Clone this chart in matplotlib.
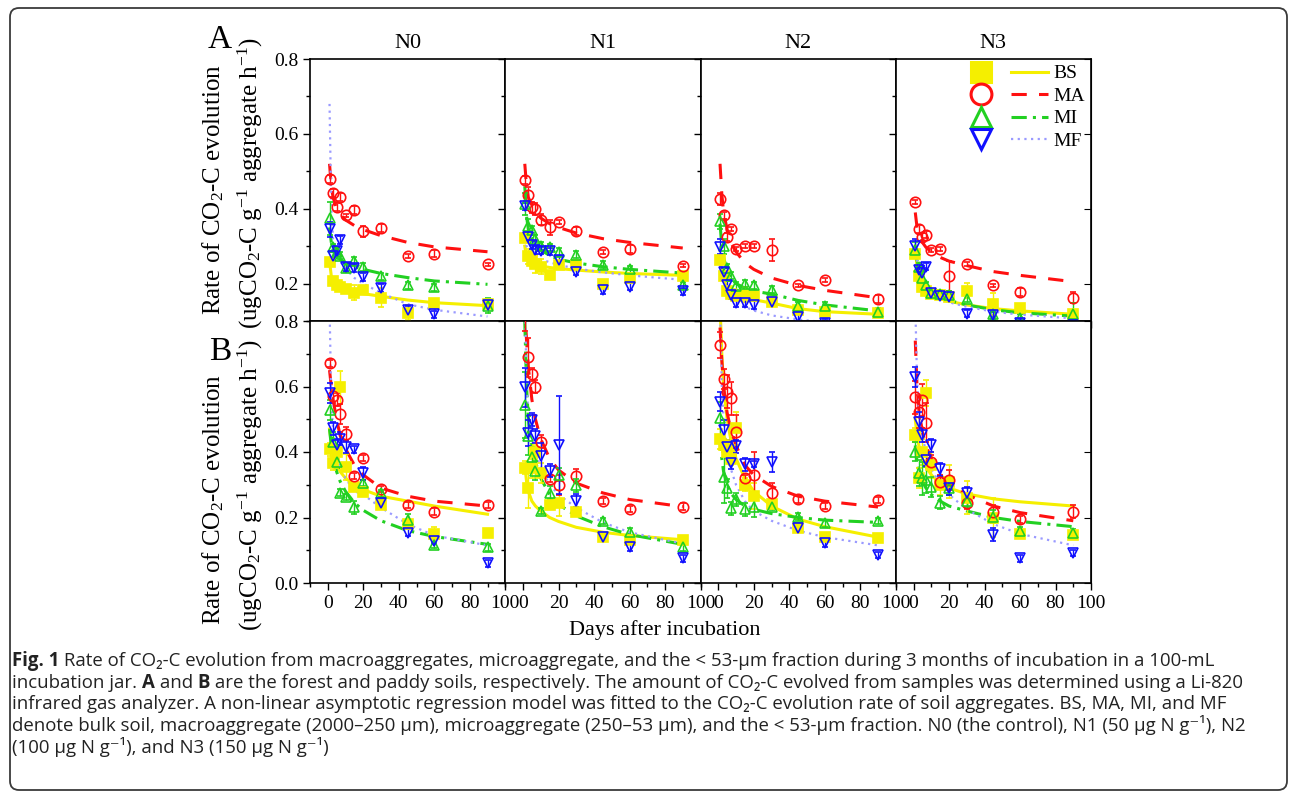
import matplotlib
matplotlib.use("Agg")
import matplotlib.pyplot as plt
from matplotlib.legend_handler import HandlerTuple
from matplotlib.lines import Line2D
from matplotlib.patches import FancyBboxPatch
from matplotlib.transforms import IdentityTransform
from matplotlib.ticker import MultipleLocator

plt.rcParams['font.family'] = ['Liberation Serif', 'DejaVu Serif']
plt.rcParams['mathtext.fontset'] = 'custom'
plt.rcParams['mathtext.rm'] = 'Liberation Serif'
plt.rcParams['mathtext.it'] = 'Liberation Serif:italic'

# ---- data ---------------------------------------------------------------
levels = ['N0', 'N1', 'N2', 'N3']
days = [1, 3, 5, 7, 10, 15, 20, 30, 45, 60, 90]
fit_days = [1, 2, 3, 5, 7, 10, 15, 20, 30, 45, 60, 90]

# A: forest soil
A_BS = [[0.257, 0.208, 0.197, 0.19, 0.185, 0.176, 0.183, 0.162, 0.122, 0.149, 0.146],
        [0.322, 0.273, 0.26, 0.252, 0.245, 0.222, 0.25, 0.249, 0.2, 0.216, 0.221],
        [0.263, 0.22, 0.18, 0.172, 0.168, 0.17, 0.168, 0.15, 0.13, 0.125, 0.121],
        [0.28, 0.22, 0.19, 0.18, 0.172, 0.17, 0.165, 0.181, 0.146, 0.135, 0.12]]
A_MA = [[0.479, 0.442, 0.404, 0.431, 0.382, 0.397, 0.34, 0.349, 0.273, 0.28, 0.251],
        [0.477, 0.437, 0.404, 0.399, 0.371, 0.351, 0.364, 0.34, 0.284, 0.292, 0.248],
        [0.426, 0.382, 0.324, 0.346, 0.293, 0.30, 0.30, 0.289, 0.195, 0.209, 0.159],
        [0.418, 0.346, 0.324, 0.331, 0.29, 0.292, 0.221, 0.253, 0.195, 0.177, 0.162]]
A_MI = [[0.374, 0.297, 0.285, 0.275, 0.242, 0.26, 0.244, 0.219, 0.195, 0.19, 0.141],
        [0.413, 0.353, 0.344, 0.32, 0.30, 0.297, 0.284, 0.277, 0.25, 0.238, 0.195],
        [0.366, 0.30, 0.242, 0.221, 0.193, 0.2, 0.195, 0.184, 0.14, 0.141, 0.125],
        [0.29, 0.245, 0.215, 0.195, 0.175, 0.172, 0.17, 0.16, 0.12, 0.108, 0.118]]
A_MF = [[0.345, 0.275, 0.288, 0.317, 0.244, 0.242, 0.218, 0.188, 0.13, 0.118, 0.144],
        [0.406, 0.325, 0.303, 0.29, 0.288, 0.286, 0.263, 0.232, 0.183, 0.192, 0.179],
        [0.298, 0.232, 0.196, 0.17, 0.148, 0.148, 0.143, 0.152, 0.11, 0.095, 0.085],
        [0.30, 0.235, 0.228, 0.245, 0.175, 0.168, 0.164, 0.12, 0.115, 0.095, 0.09]]

A_BS_ERR = [[0.01, 0.01, 0.005, 0.005, 0.005, 0.02, 0.01, 0.025, 0.02, 0.005, 0.005],
            [0.01, 0.02, 0.01, 0.025, 0.02, 0.005, 0.005, 0.005, 0.005, 0.005, 0.005],
            [0.01, 0.01, 0.01, 0.01, 0.01, 0.02, 0.01, 0.01, 0.005, 0.005, 0.005],
            [0.01, 0.01, 0.01, 0.01, 0.01, 0.01, 0.01, 0.02, 0.03, 0.005, 0.005]]
A_MA_ERR = [[0.01, 0.01, 0.01, 0.01, 0.005, 0.01, 0.015, 0.01, 0.005, 0.01, 0.005],
            [0.01, 0.02, 0.015, 0.015, 0.015, 0.02, 0.005, 0.01, 0.005, 0.01, 0.005],
            [0.015, 0.01, 0.01, 0.005, 0.005, 0.005, 0.005, 0.03, 0.005, 0.005, 0.01],
            [0.005, 0.01, 0.01, 0.01, 0.005, 0.005, 0.04, 0.005, 0.005, 0.01, 0.015]]
A_MI_ERR = [[0.045, 0.01, 0.01, 0.01, 0.01, 0.01, 0.01, 0.01, 0.01, 0.01, 0.02],
            [0.03, 0.02, 0.01, 0.01, 0.01, 0.01, 0.01, 0.01, 0.01, 0.01, 0.01],
            [0.02, 0.02, 0.01, 0.01, 0.01, 0.01, 0.01, 0.01, 0.01, 0.01, 0.01],
            [0.02, 0.01, 0.01, 0.01, 0.01, 0.01, 0.01, 0.01, 0.01, 0.01, 0.03]]
A_MF_ERR = [[0.02, 0.01, 0.01, 0.01, 0.01, 0.01, 0.01, 0.01, 0.01, 0.01, 0.01],
            [0.01, 0.01, 0.01, 0.01, 0.01, 0.01, 0.01, 0.01, 0.01, 0.01, 0.01],
            [0.02, 0.01, 0.01, 0.01, 0.01, 0.01, 0.01, 0.01, 0.01, 0.01, 0.01],
            [0.02, 0.01, 0.02, 0.01, 0.01, 0.01, 0.01, 0.01, 0.01, 0.01, 0.01]]

A_BS_FIT = [[0.26, 0.22, 0.205, 0.195, 0.19, 0.185, 0.178, 0.173, 0.166, 0.156, 0.149, 0.141],
            [0.30, 0.27, 0.26, 0.255, 0.25, 0.247, 0.243, 0.24, 0.236, 0.231, 0.227, 0.222],
            [0.27, 0.23, 0.21, 0.19, 0.178, 0.17, 0.162, 0.157, 0.148, 0.133, 0.125, 0.118],
            [0.30, 0.24, 0.215, 0.19, 0.18, 0.17, 0.16, 0.153, 0.143, 0.133, 0.127, 0.118]]
A_MA_FIT = [[0.52, 0.46, 0.43, 0.40, 0.385, 0.37, 0.355, 0.344, 0.328, 0.31, 0.298, 0.285],
            [0.52, 0.46, 0.43, 0.41, 0.39, 0.375, 0.36, 0.35, 0.335, 0.32, 0.31, 0.295],
            [0.52, 0.44, 0.39, 0.345, 0.31, 0.285, 0.255, 0.238, 0.215, 0.195, 0.182, 0.162],
            [0.39, 0.35, 0.33, 0.31, 0.297, 0.285, 0.27, 0.26, 0.248, 0.232, 0.222, 0.205]]
A_MI_FIT = [[0.35, 0.31, 0.29, 0.275, 0.265, 0.255, 0.245, 0.238, 0.227, 0.216, 0.207, 0.198],
            [0.46, 0.38, 0.345, 0.32, 0.305, 0.29, 0.275, 0.265, 0.255, 0.245, 0.238, 0.228],
            [0.36, 0.30, 0.27, 0.235, 0.215, 0.2, 0.188, 0.18, 0.172, 0.155, 0.143, 0.127],
            [0.30, 0.26, 0.235, 0.21, 0.195, 0.18, 0.165, 0.155, 0.143, 0.13, 0.122, 0.113]]
A_MF_FIT = [[0.68, 0.40, 0.32, 0.28, 0.26, 0.24, 0.215, 0.2, 0.175, 0.145, 0.13, 0.112],
            [0.32, 0.30, 0.29, 0.28, 0.272, 0.265, 0.257, 0.25, 0.24, 0.23, 0.222, 0.21],
            [0.30, 0.24, 0.21, 0.18, 0.165, 0.152, 0.138, 0.128, 0.115, 0.104, 0.097, 0.088],
            [0.30, 0.26, 0.235, 0.205, 0.19, 0.175, 0.16, 0.15, 0.138, 0.125, 0.117, 0.107]]

# B: paddy soil
B_BS = [[0.408, 0.365, 0.40, 0.597, 0.355, 0.292, 0.279, 0.238, 0.18, 0.15, 0.152],
        [0.352, 0.289, 0.35, 0.40, 0.335, 0.238, 0.245, 0.218, 0.141, 0.131, 0.131],
        [0.44, 0.42, 0.40, 0.38, 0.472, 0.30, 0.265, 0.241, 0.167, 0.141, 0.138],
        [0.452, 0.32, 0.40, 0.579, 0.36, 0.30, 0.309, 0.26, 0.2, 0.15, 0.147]]
B_MA = [[0.671, 0.57, 0.559, 0.516, 0.455, 0.327, 0.381, 0.287, 0.238, 0.218, 0.238],
        [0.82, 0.689, 0.638, 0.60, 0.432, 0.317, 0.299, 0.328, 0.251, 0.226, 0.233],
        [0.727, 0.623, 0.584, 0.564, 0.462, 0.32, 0.33, 0.276, 0.255, 0.235, 0.253],
        [0.567, 0.523, 0.559, 0.49, 0.37, 0.309, 0.315, 0.245, 0.218, 0.194, 0.218]]
B_MI = [[0.528, 0.43, 0.37, 0.276, 0.262, 0.231, 0.306, 0.274, 0.192, 0.116, 0.109],
        [0.543, 0.45, 0.386, 0.343, 0.22, 0.276, 0.33, 0.299, 0.19, 0.157, 0.109],
        [0.503, 0.325, 0.289, 0.228, 0.255, 0.225, 0.233, 0.233, 0.203, 0.182, 0.19],
        [0.401, 0.335, 0.32, 0.315, 0.294, 0.245, 0.29, 0.251, 0.203, 0.16, 0.154]]
B_MF = [[0.581, 0.472, 0.421, 0.441, 0.416, 0.408, 0.335, 0.245, 0.154, 0.128, 0.06],
        [0.597, 0.457, 0.498, 0.449, 0.389, 0.343, 0.421, 0.251, 0.141, 0.109, 0.075],
        [0.554, 0.467, 0.416, 0.367, 0.418, 0.363, 0.363, 0.37, 0.167, 0.121, 0.085],
        [0.63, 0.493, 0.452, 0.376, 0.421, 0.347, 0.289, 0.274, 0.147, 0.075, 0.091]]

B_BS_ERR = [[0.02, 0.02, 0.02, 0.05, 0.04, 0.01, 0.01, 0.01, 0.01, 0.02, 0.01],
            [0.02, 0.06, 0.03, 0.02, 0.03, 0.01, 0.04, 0.01, 0.01, 0.01, 0.01],
            [0.03, 0.02, 0.02, 0.02, 0.05, 0.02, 0.04, 0.01, 0.01, 0.01, 0.01],
            [0.02, 0.03, 0.04, 0.04, 0.04, 0.03, 0.05, 0.05, 0.06, 0.01, 0.01]]
B_MA_ERR = [[0.01, 0.02, 0.02, 0.03, 0.02, 0.01, 0.01, 0.01, 0.01, 0.01, 0.01],
            [0.05, 0.06, 0.02, 0.02, 0.02, 0.01, 0.03, 0.02, 0.01, 0.01, 0.01],
            [0.04, 0.03, 0.05, 0.05, 0.05, 0.01, 0.07, 0.03, 0.01, 0.01, 0.01],
            [0.05, 0.05, 0.05, 0.06, 0.02, 0.02, 0.03, 0.02, 0.02, 0.01, 0.02]]
B_MI_ERR = [[0.03, 0.03, 0.02, 0.01, 0.01, 0.02, 0.01, 0.01, 0.02, 0.01, 0.01],
            [0.1, 0.06, 0.03, 0.03, 0.01, 0.02, 0.02, 0.02, 0.01, 0.01, 0.01],
            [0.05, 0.08, 0.03, 0.02, 0.02, 0.02, 0.03, 0.01, 0.01, 0.01, 0.01],
            [0.03, 0.04, 0.05, 0.04, 0.03, 0.02, 0.02, 0.02, 0.02, 0.01, 0.01]]
B_MF_ERR = [[0.03, 0.02, 0.02, 0.02, 0.02, 0.01, 0.02, 0.01, 0.01, 0.01, 0.01],
            [0.06, 0.04, 0.02, 0.02, 0.04, 0.02, 0.15, 0.02, 0.01, 0.01, 0.01],
            [0.03, 0.03, 0.02, 0.02, 0.02, 0.02, 0.01, 0.03, 0.01, 0.01, 0.01],
            [0.03, 0.03, 0.02, 0.02, 0.02, 0.02, 0.02, 0.02, 0.02, 0.01, 0.01]]

B_BS_FIT = [[0.47, 0.43, 0.40, 0.36, 0.34, 0.32, 0.30, 0.285, 0.265, 0.25, 0.235, 0.21],
            [0.36, 0.31, 0.28, 0.25, 0.235, 0.22, 0.20, 0.188, 0.17, 0.155, 0.145, 0.132],
            [0.85, 0.70, 0.60, 0.50, 0.44, 0.38, 0.32, 0.28, 0.235, 0.195, 0.172, 0.14],
            [0.50, 0.45, 0.42, 0.38, 0.355, 0.33, 0.305, 0.29, 0.272, 0.257, 0.248, 0.235]]
B_MA_FIT = [[0.65, 0.60, 0.56, 0.50, 0.45, 0.41, 0.36, 0.33, 0.29, 0.265, 0.25, 0.235],
            [0.85, 0.74, 0.66, 0.56, 0.50, 0.44, 0.38, 0.345, 0.305, 0.275, 0.255, 0.233],
            [0.78, 0.68, 0.60, 0.52, 0.47, 0.42, 0.36, 0.33, 0.295, 0.265, 0.25, 0.232],
            [0.74, 0.60, 0.53, 0.46, 0.42, 0.38, 0.33, 0.305, 0.27, 0.235, 0.215, 0.19]]
B_MI_FIT = [[0.47, 0.42, 0.39, 0.34, 0.31, 0.28, 0.245, 0.222, 0.19, 0.16, 0.142, 0.118],
            [0.80, 0.60, 0.50, 0.42, 0.37, 0.32, 0.27, 0.24, 0.205, 0.172, 0.148, 0.118],
            [0.45, 0.38, 0.34, 0.30, 0.275, 0.255, 0.235, 0.225, 0.212, 0.20, 0.192, 0.185],
            [0.42, 0.37, 0.34, 0.31, 0.29, 0.27, 0.25, 0.235, 0.22, 0.20, 0.188, 0.172]]
B_MF_FIT = [[0.85, 0.55, 0.47, 0.40, 0.36, 0.32, 0.28, 0.27, 0.23, 0.18, 0.145, 0.115],
            [0.90, 0.60, 0.52, 0.44, 0.40, 0.35, 0.30, 0.27, 0.23, 0.185, 0.155, 0.12],
            [0.85, 0.60, 0.50, 0.40, 0.35, 0.30, 0.25, 0.22, 0.19, 0.16, 0.14, 0.115],
            [0.85, 0.62, 0.53, 0.45, 0.40, 0.35, 0.30, 0.27, 0.225, 0.18, 0.15, 0.115]]

# ---- styles ---------------------------------------------------------------
YELLOW = '#f5ef00'
RED = '#ff1010'
GREEN = '#22d022'
BLUE = '#1010ff'
LAVENDER = '#9a9aff'

series_style = [
    # name, marker, fill, color, line color, linestyle
    ('BS', 's', YELLOW, YELLOW, YELLOW, '-'),
    ('MA', 'o', 'none', RED, RED, (0, (5, 4))),
    ('MI', '^', 'none', GREEN, GREEN, (0, (5, 2, 1, 2))),
    ('MF', 'v', 'none', BLUE, LAVENDER, (0, (1, 2))),
]

W, H = 1290, 793
fig = plt.figure(figsize=(W / 100, H / 100), dpi=100)


def px_rect(x0, y0, x1, y1):
    return [x0 / W, 1 - y1 / H, (x1 - x0) / W, (y1 - y0) / H]


col_x = [310, 505.25, 700.5, 895.75, 1091]
row_y = {'A': (59, 321), 'B': (321, 583)}
soil_data = {
    'A': [(A_BS, A_BS_ERR, A_BS_FIT), (A_MA, A_MA_ERR, A_MA_FIT),
          (A_MI, A_MI_ERR, A_MI_FIT), (A_MF, A_MF_ERR, A_MF_FIT)],
    'B': [(B_BS, B_BS_ERR, B_BS_FIT), (B_MA, B_MA_ERR, B_MA_FIT),
          (B_MI, B_MI_ERR, B_MI_FIT), (B_MF, B_MF_ERR, B_MF_FIT)],
}

tick_font = 14
for soil in ['A', 'B']:
    y0, y1 = row_y[soil]
    for j, lev in enumerate(levels):
        ax = fig.add_axes(px_rect(col_x[j], y0, col_x[j + 1], y1))
        # fitted curves
        for (name, mk, fc, ec, lc, ls), (vals, errs, fit) in zip(series_style, soil_data[soil]):
            lw = 2.2 if name != 'MF' else 1.6
            ax.plot(fit_days, fit[j], color=lc, ls=ls, lw=lw, zorder=2)
        # measured points
        for (name, mk, fc, ec, lc, ls), (vals, errs, fit) in zip(series_style, soil_data[soil]):
            ms = 7 if name == 'BS' else 7.5
            ax.errorbar(days, vals[j], yerr=errs[j], fmt=mk, ms=ms, mfc=fc, mec=ec,
                        mew=1.2, ecolor=ec, elinewidth=1.0, capsize=2, capthick=1.0,
                        zorder=3)
        ax.set_xlim(-10, 100)
        ax.set_xticks([0, 20, 40, 60, 80, 100])
        ax.xaxis.set_minor_locator(MultipleLocator(10))
        if soil == 'A':
            ax.set_ylim(0.1, 0.8)
            ax.set_yticks([0.2, 0.4, 0.6, 0.8])
            ax.set_title(lev, fontsize=16, pad=8)
        else:
            ax.set_ylim(0.0, 0.8)
            ax.set_yticks([0.0, 0.2, 0.4, 0.6, 0.8])
        ax.yaxis.set_minor_locator(MultipleLocator(0.1))
        ax.yaxis.set_major_formatter(matplotlib.ticker.FormatStrFormatter('%.1f'))
        ax.tick_params(which='major', direction='out', length=5, width=1, labelsize=tick_font)
        ax.tick_params(which='minor', direction='out', length=3, width=1)
        ax.tick_params(labelleft=(j == 0), labelbottom=(soil == 'B'))
        for sp in ax.spines.values():
            sp.set_linewidth(1.2)
        if j == 3:
            sec = ax.secondary_yaxis('right')
            sec.set_yticks(ax.get_yticks())
            sec.tick_params(direction='in', length=5, labelright=False)
        if soil == 'A' and j == 3:
            handles = []
            for name, mk, fc, ec, lc, ls in series_style:
                m = Line2D([], [], marker=mk, ms=15, mfc=fc, mec=ec, mew=2.2, ls='none')
                ln = Line2D([], [], color=lc, ls=ls, lw=2.2 if name != 'MF' else 1.6)
                handles.append((m, ln))
            ax.legend(handles, [s[0] for s in series_style],
                      handler_map={tuple: HandlerTuple(ndivide=None, pad=0.6)},
                      loc='upper right', frameon=False, fontsize=14, handlelength=4.4,
                      handletextpad=0.3, labelspacing=0.25, borderaxespad=0.2,
                      borderpad=0.1)

# axis labels
for soil, (cy1, cy2) in {'A': (190, 183), 'B': (500, 485)}.items():
    fig.text(213 / W, 1 - cy1 / H, 'Rate of CO$_2$-C evolution', rotation=90,
             ha='center', va='center', fontsize=18)
    fig.text(250 / W, 1 - cy2 / H, '(ugCO$_2$-C g$^{-1}$ aggregate h$^{-1}$)', rotation=90,
             ha='center', va='center', fontsize=18)
fig.text(220 / W, 1 - 40 / H, 'A', ha='center', va='center', fontsize=24)
fig.text(220 / W, 1 - 352 / H, 'B', ha='center', va='center', fontsize=24)
fig.text(665 / W, 1 - 630 / H, 'Days after incubation', ha='center', va='center', fontsize=16)

# frame around the whole figure
frame = FancyBboxPatch((10, 3), 1277, 782, boxstyle='round,pad=0,rounding_size=9',
                       transform=IdentityTransform(), fill=False, ec='#3a3a3a', lw=1.3)
fig.patches.append(frame)

# caption
cap_family = ['Open Sans', 'DejaVu Sans']
cap_size = 13.4
cap_lines = [
    [('Fig. 1', 'bold'), (' Rate of CO\u2082-C evolution from macroaggregates, microaggregate, and the < 53-\u03bcm '
                          'fraction during 3 months of incubation in a 100-mL', 'normal')],
    [('incubation jar. ', 'normal'), ('A', 'bold'), (' and ', 'normal'), ('B', 'bold'),
     (' are the forest and paddy soils, respectively. The amount of CO\u2082-C evolved from samples was '
      'determined using a Li-820', 'normal')],
    [('infrared gas analyzer. A non-linear asymptotic regression model was fitted to the CO\u2082-C '
      'evolution rate of soil aggregates. BS, MA, MI, and MF', 'normal')],
    [('denote bulk soil, macroaggregate (2000\u2013250 \u03bcm), microaggregate (250\u201353 \u03bcm), '
      'and the < 53-\u03bcm fraction. N0 (the control), N1 (50 \u03bcg N g\u207b\u00b9), N2', 'normal')],
    [('(100 \u03bcg N g\u207b\u00b9), and N3 (150 \u03bcg N g\u207b\u00b9)', 'normal')],
]
line_y = [661, 683, 704, 725, 747]
renderer = fig.canvas.get_renderer()
for segs, yy in zip(cap_lines, line_y):
    x = 12
    for txt, wt in segs:
        t = fig.text(x / W, 1 - yy / H, txt, fontsize=cap_size, fontweight=wt,
                     family=cap_family, ha='left', va='center', color='#222222')
        x += t.get_window_extent(renderer).width

fig.savefig('out.png', dpi=100)
